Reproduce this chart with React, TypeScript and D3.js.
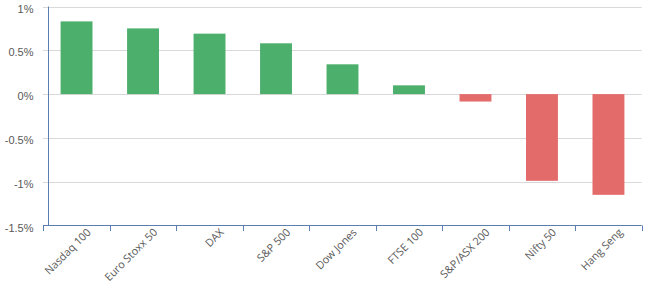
import React from "react";
import * as d3 from "d3";

const categories = ["Nasdaq 100", "Euro Stoxx 50", "DAX", "S&P 500", "Dow Jones", "FTSE 100", "S&P/ASX 200", "Nifty 50", "Hang Seng"];
const values = [0.83, 0.75, 0.69, 0.58, 0.34, 0.10, -0.085, -0.99, -1.15];
const yTicks = [1, 0.5, 0, -0.5, -1, -1.5];
const yTickLabels = ["1%", "0.5%", "0%", "-0.5%", "-1%", "-1.5%"];

const W = 649;
const H = 305;

export default function App() {
  const x = d3.scaleBand<string>().domain(categories).range([43.3, 641.7]).paddingInner(0.52).paddingOuter(0.26);
  const y = d3.scaleLinear().domain([-1.5, 1]).range([225.5, 6.5]);
  const axisColor = "#5b7db0";
  const gridColor = "#d9d9d9";
  const textColor = "#595959";
  const step = x.step();
  const x0 = 43.3;
  const boundaries = d3.range(categories.length + 1).map((i) => x0 + i * step);
  const yAxisX = 48.5;
  return (
    <svg width={W} height={H} style={{ position: "absolute", left: 0, top: 0, background: "#fff" }}>
      {yTicks.slice(0, -1).map((t) => (
        <line key={"g" + t} x1={43} x2={641.7} y1={Math.round(y(t)) + 0.5} y2={Math.round(y(t)) + 0.5} stroke={gridColor} strokeWidth={1} />
      ))}
      {values.map((v, i) => {
        const c = categories[i];
        const y0 = y(0);
        const y1 = y(v);
        return (
          <rect key={c} x={x(c)} width={x.bandwidth()} y={Math.min(y0, y1)} height={Math.abs(y1 - y0)} fill={v >= 0 ? "#4daf6c" : "#e36c6b"} />
        );
      })}
      <line x1={yAxisX} x2={yAxisX} y1={6.5} y2={225.5} stroke={axisColor} strokeWidth={1} />
      <line x1={43} x2={641.7} y1={225.5} y2={225.5} stroke={axisColor} strokeWidth={1} />
      {boundaries.map((b, i) => (
        <line key={"t" + i} x1={Math.round(b) + 0.5} x2={Math.round(b) + 0.5} y1={225.5} y2={231} stroke={axisColor} strokeWidth={1} />
      ))}
      {yTicks.map((t, i) => (
        <text key={"yl" + t} x={33.5} y={y(t) + 6} textAnchor="end" fontFamily="Liberation Sans, Arial, sans-serif" fontSize={11} fill={textColor}>
          {yTickLabels[i]}
        </text>
      ))}
      {categories.map((c) => {
        const cx = (x(c) as number) + x.bandwidth() / 2 + 15;
        const cy = 233;
        return (
          <text key={"xl" + c} x={cx} y={cy} textAnchor="end" transform={`rotate(-45 ${cx} ${cy})`} fontFamily="Open Sans, sans-serif" fontSize={10.8} fill={textColor}>
            {c}
          </text>
        );
      })}
    </svg>
  );
}
